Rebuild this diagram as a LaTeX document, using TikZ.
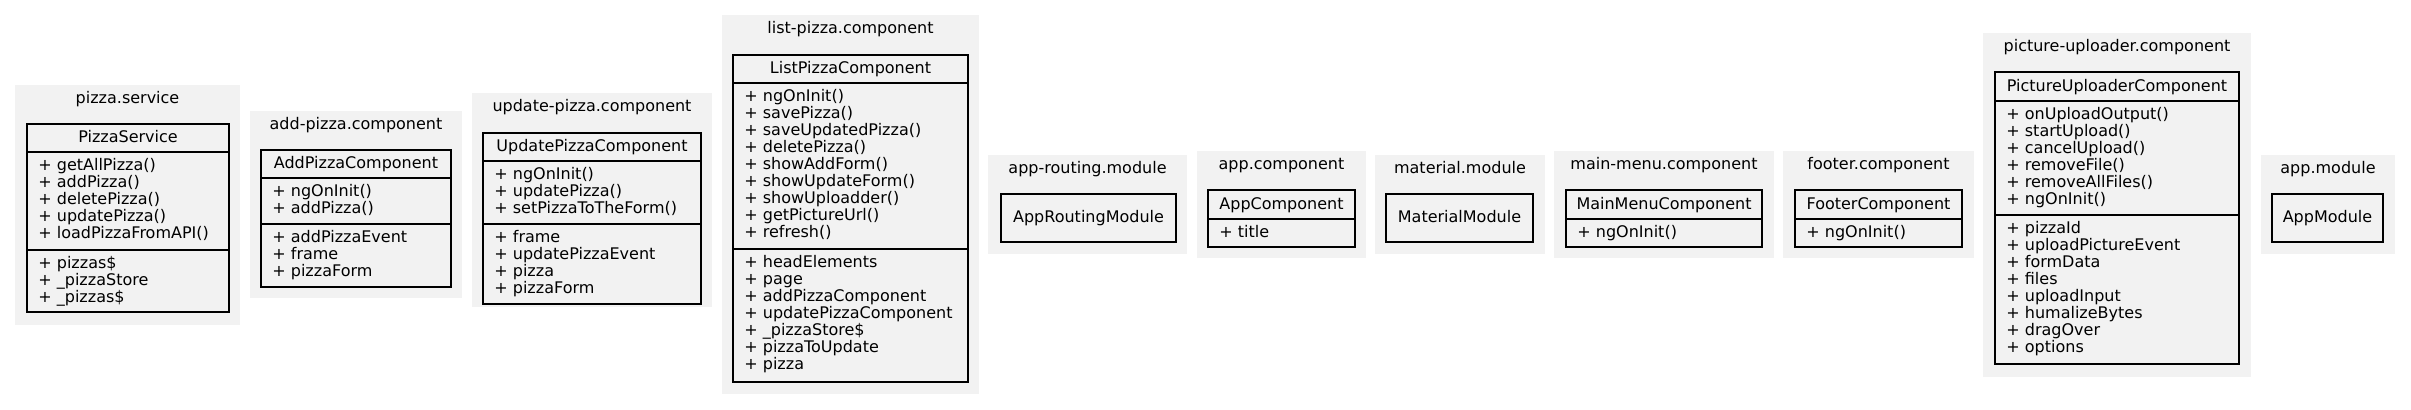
\documentclass[tikz,border=0pt]{standalone}
\usepackage{fontspec}
\setmainfont{DejaVu Sans}
\usetikzlibrary{fit}
\definecolor{clusterfill}{HTML}{F2F2F2}
\tikzset{
  clusterbg/.style={fill=clusterfill, draw=none, inner sep=0pt},
  umlbox/.style={fill=clusterfill, draw=black, line width=0.7pt, inner sep=0pt},
  divider/.style={draw=black, line width=0.7pt},
  member/.style={anchor=base west, inner sep=0pt, font=\fontsize{8}{8.5}\selectfont},
  ctitle/.style={anchor=base, inner sep=0pt, font=\fontsize{8}{8.5}\selectfont},
}
% cluster: name, x1, y1, x2, y2, title
\newcommand{\umlcluster}[6]{%
  \node[clusterbg, fit={(#2,#3) (#4,#5)}] (#1) {};
  \node[ctitle] (#1-title) at ({(#2+#4)/2},{#3+18}) {#6};
}
% class box with header: name, x1, y1, x2, y2, first divider, class name
\newcommand{\umlclassbox}[7]{%
  \node[umlbox, fit={(#2,#3) (#4,#5)}] (#1) {};
  \node[ctitle] (#1-name) at ({(#2+#4)/2},{(#3+#6)/2+4.5}) {#7};
  \draw[divider] (#1.west |- 0,#6) -- (#1.east |- 0,#6);
}
% plain box: name, x1, y1, x2, y2, text
\newcommand{\umlplainbox}[6]{%
  \node[umlbox, fit={(#2,#3) (#4,#5)}] (#1) {};
  \node[ctitle] (#1-name) at ({(#2+#4)/2},{(#3+#5)/2+4.5}) {#6};
}
% extra divider: box name, y
\newcommand{\umldivider}[2]{%
  \draw[divider] (#1.west |- 0,#2) -- (#1.east |- 0,#2);
}
% members: prefix, box left x, divider y, list
\newcommand{\umlmembers}[4]{%
  \foreach \t [count=\i from 0] in {#4} {
    \node[member] (#1-\i) at ({#2+11},{#3+18.5+17*\i}) {+ \t};
  }
}
\begin{document}
\begin{tikzpicture}[x=0.5pt, y=-0.5pt]
\useasboundingbox (0,0) rectangle (2411,409);

% pizza.service
\umlcluster{c1}{15}{85}{240}{325}{pizza.service}
\umlclassbox{b1}{27}{124}{229}{312}{152}{PizzaService}
\umldivider{b1}{250}
\umlmembers{b1m}{27}{152}{getAllPizza(), addPizza(), deletePizza(), updatePizza(), loadPizzaFromAPI()}
\umlmembers{b1a}{27}{250}{pizzas\$, \_pizzaStore, \_pizzas\$}

% add-pizza.component
\umlcluster{c2}{250}{111}{462}{298}{add-pizza.component}
\umlclassbox{b2}{261}{150}{451}{287}{178}{AddPizzaComponent}
\umldivider{b2}{224}
\umlmembers{b2m}{261}{178}{ngOnInit(), addPizza()}
\umlmembers{b2a}{261}{224}{addPizzaEvent, frame, pizzaForm}

% update-pizza.component
\umlcluster{c3}{472}{93}{712}{307}{update-pizza.component}
\umlclassbox{b3}{483}{133}{701}{304}{161}{UpdatePizzaComponent}
\umldivider{b3}{224}
\umlmembers{b3m}{483}{161}{ngOnInit(), updatePizza(), setPizzaToTheForm()}
\umlmembers{b3a}{483}{224}{frame, updatePizzaEvent, pizza, pizzaForm}

% list-pizza.component
\umlcluster{c4}{722}{15}{979}{394}{list-pizza.component}
\umlclassbox{b4}{733}{55}{968}{382}{83}{ListPizzaComponent}
\umldivider{b4}{249}
\umlmembers{b4m}{733}{83}{ngOnInit(), savePizza(), saveUpdatedPizza(), deletePizza(), showAddForm(), showUpdateForm(), showUploadder(), getPictureUrl(), refresh()}
\umlmembers{b4a}{733}{249}{headElements, page, addPizzaComponent, updatePizzaComponent, \_pizzaStore\$, pizzaToUpdate, pizza}

% app-routing.module
\umlcluster{c5}{988}{155}{1187}{254}{app-routing.module}
\umlplainbox{b5}{1001}{194}{1176}{242}{AppRoutingModule}

% app.component
\umlcluster{c6}{1197}{151}{1366}{258}{app.component}
\umlclassbox{b6}{1208}{190}{1355}{247}{219}{AppComponent}
\umlmembers{b6m}{1208}{219}{title}

% material.module
\umlcluster{c7}{1375}{155}{1545}{254}{material.module}
\umlplainbox{b7}{1386}{194}{1533}{242}{MaterialModule}

% main-menu.component
\umlcluster{c8}{1554}{151}{1774}{258}{main-menu.component}
\umlclassbox{b8}{1566}{190}{1762}{247}{219}{MainMenuComponent}
\umlmembers{b8m}{1566}{219}{ngOnInit()}

% footer.component
\umlcluster{c9}{1783}{151}{1974}{258}{footer.component}
\umlclassbox{b9}{1795}{190}{1962}{247}{219}{FooterComponent}
\umlmembers{b9m}{1795}{219}{ngOnInit()}

% picture-uploader.component
\umlcluster{c10}{1983}{33}{2251}{377}{picture-uploader.component}
\umlclassbox{b10}{1995}{72}{2239}{364}{101}{PictureUploaderComponent}
\umldivider{b10}{215}
\umlmembers{b10m}{1995}{101}{onUploadOutput(), startUpload(), cancelUpload(), removeFile(), removeAllFiles(), ngOnInit()}
\umlmembers{b10a}{1995}{215}{pizzaId, uploadPictureEvent, formData, files, uploadInput, humalizeBytes, dragOver, options}

% app.module
\umlcluster{c11}{2261}{155}{2395}{254}{app.module}
\umlplainbox{b11}{2272}{194}{2383}{242}{AppModule}
\end{tikzpicture}
\end{document}
